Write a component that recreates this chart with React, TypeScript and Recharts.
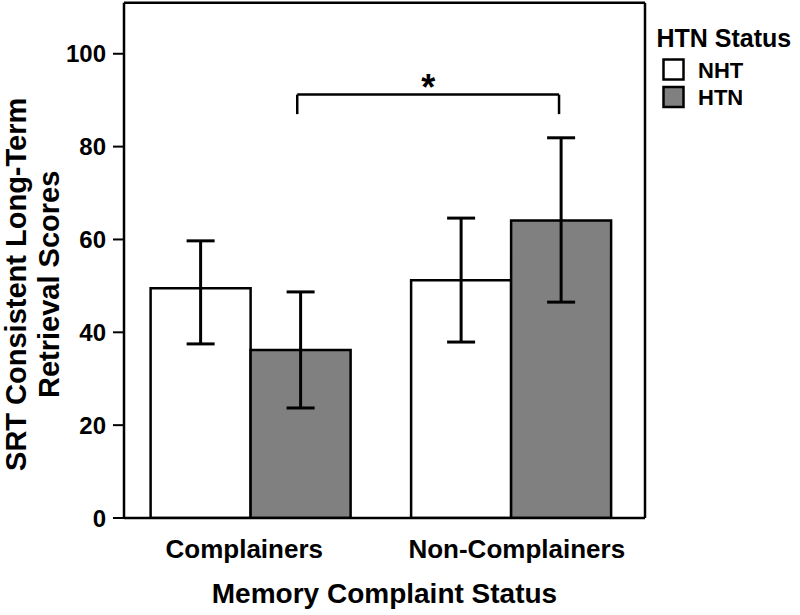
import React from 'react';
import {
  BarChart,
  Bar,
  XAxis,
  YAxis,
  ErrorBar,
  ReferenceLine,
  Legend,
} from 'recharts';

// ---- data ----
const categories = ['Complainers', 'Non-Complainers'];
const nhtMean = [49.5, 51.2];
const nhtLow = [37.5, 37.9];
const nhtHigh = [59.7, 64.6];
const htnMean = [36.2, 64.1];
const htnLow = [23.7, 46.5];
const htnHigh = [48.7, 81.9];
const yTicks = [0, 20, 40, 60, 80, 100];
const yMax = 111;
const seriesNames = ['NHT', 'HTN'];
const legendTitle = 'HTN Status';
const xTitle = 'Memory Complaint Status';
const yTitleLines = ['SRT Consistent Long-Term', 'Retrieval Scores'];
// significance bracket (numeric helper axis 0..2, value axis)
const bracketX = [0.665, 1.67];
const bracketTop = 91.2;
const bracketBottom = 87.0;
const sigMark = '*';

const data = categories.map((c, i) => ({
  category: c,
  NHT: nhtMean[i],
  NHTerr: [nhtMean[i] - nhtLow[i], nhtHigh[i] - nhtMean[i]],
  HTN: htnMean[i],
  HTNerr: [htnMean[i] - htnLow[i], htnHigh[i] - htnMean[i]],
}));

const FONT = '"Liberation Sans", Arial, Helvetica, sans-serif';
const colors = ['#ffffff', '#808080'];
const tickShift = [-6, 6];

const YLabel = (props: any) => {
  const vb = props.viewBox || { x: 0, y: 0, width: 124, height: 515 };
  const cx = vb.x + 26;
  const cy = vb.y + vb.height / 2 + 24;
  return (
    <text
      transform={`rotate(-90, ${cx}, ${cy})`}
      x={cx}
      y={cy}
      textAnchor="middle"
      fontSize={29}
      fontWeight="bold"
      fill="#000"
      fontFamily={FONT}
    >
      <tspan x={cx} dy={0}>{yTitleLines[0]}</tspan>
      <tspan x={cx} dy={33.3}>{yTitleLines[1]}</tspan>
    </text>
  );
};

const XTick = (props: any) => {
  const { x, y, payload, index } = props;
  return (
    <text
      x={x + (tickShift[index] || 0)}
      y={y}
      dy={38}
      textAnchor="middle"
      fontSize={26}
      fontWeight="bold"
      fill="#000"
      fontFamily={FONT}
    >
      {payload.value}
    </text>
  );
};

const SigLabel = (props: any) => {
  const vb = props.viewBox || { x: 0, y: 0, width: 0, height: 0 };
  const cx = vb.x + (vb.width || 0) / 2;
  return (
    <text x={cx} y={vb.y + 5} textAnchor="middle" fontSize={36} fontWeight="bold" fill="#000" fontFamily={FONT}>
      {sigMark}
    </text>
  );
};

const LegendContent = (props: any) => {
  const pl: any[] = props.payload || [];
  const items = seriesNames.map((n, i) => {
    const p = pl.find((q: any) => q.value === n);
    return { value: n, fill: (p && (p.payload?.fill || p.color)) || colors[i] };
  });
  return (
    <svg width={155} height={115} style={{ display: 'block' }}>
      <text x={11.5} y={47} fontSize={25} fontWeight="bold" fill="#000" fontFamily={FONT}>
        {legendTitle}
      </text>
      {items.map((p, i) => (
        <g key={p.value}>
          <rect
            x={18.5}
            y={59.5 + i * 27.5}
            width={20}
            height={20}
            fill={p.fill}
            stroke="#000"
            strokeWidth={2.5}
          />
          <text x={53} y={77.5 + i * 27.5} fontSize={22} fontWeight="bold" fill="#000" fontFamily={FONT}>
            {p.value}
          </text>
        </g>
      ))}
    </svg>
  );
};

export default function App() {
  return (
    <div style={{ position: 'absolute', left: 0, top: 0, width: 800, height: 615, fontFamily: FONT, background: '#fff' }}>
      <BarChart
        width={800}
        height={615}
        data={data}
        margin={{ top: 2.7, right: 155, bottom: 0, left: 0 }}
        barGap={0}
        barCategoryGap="11.75%"
        style={{ fontFamily: FONT }}
      >
        <XAxis
          dataKey="category"
          height={97}
          interval={0}
          tickLine={false}
          tickSize={0}
          tickMargin={2}
          padding={{ left: -4, right: 4 }}
          axisLine={{ stroke: '#000', strokeWidth: 2.5 }}
          tick={<XTick />}
          label={{ value: xTitle, position: 'insideBottom', offset: 12, fontSize: 28, fontWeight: 'bold', fill: '#000', fontFamily: FONT }}
        />
        <XAxis
          xAxisId="n"
          type="number"
          dataKey={(d: any) => categories.indexOf(d.category) + 0.5}
          domain={[0, 2]}
          allowDataOverflow
          hide
        />
        <YAxis
          domain={[0, yMax]}
          ticks={yTicks}
          interval={0}
          width={124}
          tickSize={11}
          tickMargin={7}
          allowDataOverflow
          axisLine={{ stroke: '#000', strokeWidth: 2.5 }}
          tickLine={{ stroke: '#000', strokeWidth: 2 }}
          tick={{ fontSize: 24, fontWeight: 'bold', fill: '#000', fontFamily: FONT }}
          label={<YLabel />}
        />
        <Legend
          layout="horizontal"
          verticalAlign="middle"
          align="center"
          content={<LegendContent />}
          wrapperStyle={{ position: 'absolute', left: 645, top: 0, width: 155, height: 115 }}
        />
        <ReferenceLine y={yMax} stroke="#000" strokeWidth={2.5} ifOverflow="visible" />
        <ReferenceLine xAxisId="n" x={2} stroke="#000" strokeWidth={2.5} ifOverflow="visible" />
        <Bar dataKey="NHT" name={seriesNames[0]} fill={colors[0]} stroke="#000" strokeWidth={2.5} isAnimationActive={false}>
          <ErrorBar dataKey="NHTerr" width={14} stroke="#000" strokeWidth={3} isAnimationActive={false} />
        </Bar>
        <Bar dataKey="HTN" name={seriesNames[1]} fill={colors[1]} stroke="#000" strokeWidth={2.5} isAnimationActive={false}>
          <ErrorBar dataKey="HTNerr" width={14} stroke="#000" strokeWidth={3} isAnimationActive={false} />
        </Bar>
        <ReferenceLine
          xAxisId="n"
          segment={[{ x: bracketX[0], y: bracketTop }, { x: bracketX[1], y: bracketTop }]}
          stroke="#000"
          strokeWidth={2.5}
          ifOverflow="visible"
          label={<SigLabel />}
        />
        <ReferenceLine
          xAxisId="n"
          segment={[{ x: bracketX[0], y: bracketTop }, { x: bracketX[0], y: bracketBottom }]}
          stroke="#000"
          strokeWidth={2.5}
          ifOverflow="visible"
        />
        <ReferenceLine
          xAxisId="n"
          segment={[{ x: bracketX[1], y: bracketTop }, { x: bracketX[1], y: bracketBottom }]}
          stroke="#000"
          strokeWidth={2.5}
          ifOverflow="visible"
        />
      </BarChart>
    </div>
  );
}
